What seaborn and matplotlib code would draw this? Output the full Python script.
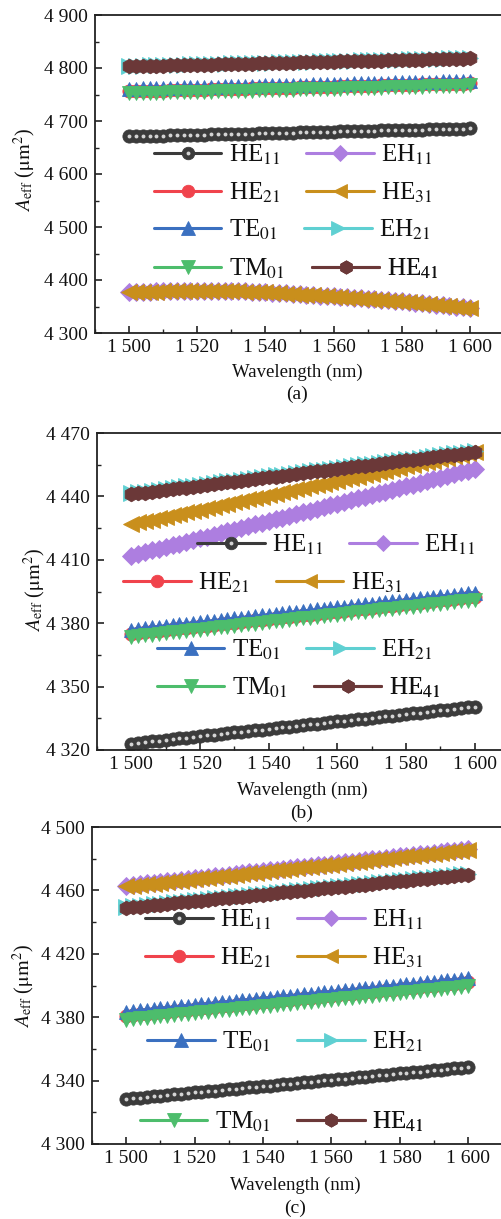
import matplotlib
matplotlib.use("Agg")
import matplotlib.pyplot as plt
import seaborn as sns
from matplotlib.ticker import MultipleLocator, FixedLocator, FuncFormatter

# ---------------- data ----------------
wavelength = [1500, 1502, 1504, 1506, 1508, 1510, 1512, 1514, 1516, 1518, 1520, 1522, 1524, 1526, 1528,
              1530, 1532, 1534, 1536, 1538, 1540, 1542, 1544, 1546, 1548, 1550, 1552, 1554, 1556, 1558,
              1560, 1562, 1564, 1566, 1568, 1570, 1572, 1574, 1576, 1578, 1580, 1582, 1584, 1586, 1588,
              1590, 1592, 1594, 1596, 1598, 1600]

modes = ["HE11", "HE21", "TE01", "TM01", "EH11", "HE31", "EH21", "HE41"]
mode_labels = [r"HE$_{11}$", r"HE$_{21}$", r"TE$_{01}$", r"TM$_{01}$",
               r"EH$_{11}$", r"HE$_{31}$", r"EH$_{21}$", r"HE$_{41}$"]

x_ticks = [1500, 1520, 1540, 1560, 1580, 1600]
y_ticks_a = [4300, 4400, 4500, 4600, 4700, 4800, 4900]
y_ticks_b = [4320, 4350, 4380, 4410, 4440, 4470]
y_ticks_c = [4300, 4340, 4380, 4420, 4460, 4500]

# panel (a)
HE11_a = [4671.0, 4671.3, 4671.6, 4671.9, 4672.2, 4672.5, 4672.8, 4673.1, 4673.4, 4673.7, 4674.0, 4674.3, 4674.6, 4674.9, 4675.2, 4675.5, 4675.8, 4676.1, 4676.4, 4676.7, 4677.0, 4677.3, 4677.6, 4677.9, 4678.2, 4678.5, 4678.8, 4679.1, 4679.4, 4679.7, 4680.0, 4680.3, 4680.6, 4680.9, 4681.2, 4681.5, 4681.8, 4682.1, 4682.4, 4682.7, 4683.0, 4683.3, 4683.6, 4683.9, 4684.2, 4684.5, 4684.8, 4685.1, 4685.4, 4685.7, 4686.0]
HE21_a = [4756.0, 4756.3, 4756.6, 4756.9, 4757.2, 4757.5, 4757.8, 4758.1, 4758.4, 4758.7, 4759.0, 4759.3, 4759.6, 4759.9, 4760.2, 4760.5, 4760.8, 4761.1, 4761.4, 4761.7, 4762.0, 4762.3, 4762.6, 4762.9, 4763.2, 4763.5, 4763.8, 4764.1, 4764.4, 4764.7, 4765.0, 4765.3, 4765.6, 4765.9, 4766.2, 4766.5, 4766.8, 4767.1, 4767.4, 4767.7, 4768.0, 4768.3, 4768.6, 4768.9, 4769.2, 4769.5, 4769.8, 4770.1, 4770.4, 4770.7, 4771.0]
TE01_a = [4761.0, 4761.3, 4761.6, 4761.9, 4762.2, 4762.5, 4762.8, 4763.1, 4763.4, 4763.7, 4764.0, 4764.3, 4764.6, 4764.9, 4765.2, 4765.5, 4765.8, 4766.1, 4766.4, 4766.7, 4767.0, 4767.3, 4767.6, 4767.9, 4768.2, 4768.5, 4768.8, 4769.1, 4769.4, 4769.7, 4770.0, 4770.3, 4770.6, 4770.9, 4771.2, 4771.5, 4771.8, 4772.1, 4772.4, 4772.7, 4773.0, 4773.3, 4773.6, 4773.9, 4774.2, 4774.5, 4774.8, 4775.1, 4775.4, 4775.7, 4776.0]
TM01_a = [4752.0, 4752.3, 4752.6, 4752.9, 4753.2, 4753.5, 4753.8, 4754.1, 4754.4, 4754.7, 4755.0, 4755.3, 4755.6, 4755.9, 4756.2, 4756.5, 4756.8, 4757.1, 4757.4, 4757.7, 4758.0, 4758.3, 4758.6, 4758.9, 4759.2, 4759.5, 4759.8, 4760.1, 4760.4, 4760.7, 4761.0, 4761.3, 4761.6, 4761.9, 4762.2, 4762.5, 4762.8, 4763.1, 4763.4, 4763.7, 4764.0, 4764.3, 4764.6, 4764.9, 4765.2, 4765.5, 4765.8, 4766.1, 4766.4, 4766.7, 4767.0]
EH11_a = [4377.0, 4377.5, 4377.9, 4378.3, 4378.7, 4379.0, 4379.3, 4379.6, 4379.8, 4379.9, 4380.0, 4380.0, 4380.0, 4379.9, 4379.7, 4379.5, 4379.1, 4378.7, 4378.2, 4377.6, 4377.0, 4376.3, 4375.5, 4374.7, 4373.9, 4373.0, 4372.2, 4371.4, 4370.6, 4369.8, 4369.0, 4368.1, 4367.2, 4366.3, 4365.4, 4364.5, 4363.5, 4362.5, 4361.5, 4360.5, 4359.5, 4358.3, 4357.1, 4355.9, 4354.7, 4353.5, 4352.2, 4350.9, 4349.6, 4348.3, 4347.0]
HE31_a = [4376.5, 4377.0, 4377.4, 4377.8, 4378.2, 4378.5, 4378.8, 4379.1, 4379.3, 4379.4, 4379.5, 4379.5, 4379.5, 4379.4, 4379.2, 4379.0, 4378.6, 4378.2, 4377.7, 4377.1, 4376.5, 4375.8, 4375.0, 4374.2, 4373.4, 4372.5, 4371.7, 4370.9, 4370.1, 4369.3, 4368.5, 4367.6, 4366.7, 4365.8, 4364.9, 4364.0, 4363.0, 4362.0, 4361.0, 4360.0, 4359.0, 4357.8, 4356.6, 4355.4, 4354.2, 4353.0, 4351.7, 4350.4, 4349.1, 4347.8, 4346.5]
EH21_a = [4804.0, 4804.3, 4804.6, 4804.9, 4805.2, 4805.5, 4805.8, 4806.1, 4806.4, 4806.7, 4807.0, 4807.3, 4807.6, 4807.9, 4808.2, 4808.5, 4808.8, 4809.1, 4809.4, 4809.7, 4810.0, 4810.3, 4810.6, 4810.9, 4811.2, 4811.5, 4811.8, 4812.1, 4812.4, 4812.7, 4813.0, 4813.3, 4813.6, 4813.9, 4814.2, 4814.5, 4814.8, 4815.1, 4815.4, 4815.7, 4816.0, 4816.3, 4816.6, 4816.9, 4817.2, 4817.5, 4817.8, 4818.1, 4818.4, 4818.7, 4819.0]
HE41_a = [4803.0, 4803.3, 4803.6, 4803.9, 4804.2, 4804.5, 4804.8, 4805.1, 4805.4, 4805.7, 4806.0, 4806.3, 4806.6, 4806.9, 4807.2, 4807.5, 4807.8, 4808.1, 4808.4, 4808.7, 4809.0, 4809.3, 4809.6, 4809.9, 4810.2, 4810.5, 4810.8, 4811.1, 4811.4, 4811.7, 4812.0, 4812.3, 4812.6, 4812.9, 4813.2, 4813.5, 4813.8, 4814.1, 4814.4, 4814.7, 4815.0, 4815.3, 4815.6, 4815.9, 4816.2, 4816.5, 4816.8, 4817.1, 4817.4, 4817.7, 4818.0]

# panel (b)
HE11_b = [4323.0, 4323.4, 4323.7, 4324.1, 4324.4, 4324.8, 4325.1, 4325.5, 4325.8, 4326.2, 4326.5, 4326.9, 4327.2, 4327.6, 4327.9, 4328.3, 4328.6, 4329.0, 4329.3, 4329.7, 4330.0, 4330.4, 4330.7, 4331.1, 4331.4, 4331.8, 4332.1, 4332.5, 4332.8, 4333.2, 4333.5, 4333.9, 4334.2, 4334.6, 4334.9, 4335.3, 4335.6, 4336.0, 4336.3, 4336.7, 4337.0, 4337.4, 4337.7, 4338.1, 4338.4, 4338.8, 4339.1, 4339.5, 4339.8, 4340.2, 4340.5]
HE21_b = [4375.0, 4375.4, 4375.7, 4376.1, 4376.4, 4376.8, 4377.1, 4377.5, 4377.8, 4378.2, 4378.5, 4378.9, 4379.2, 4379.6, 4379.9, 4380.3, 4380.6, 4381.0, 4381.3, 4381.7, 4382.0, 4382.4, 4382.7, 4383.1, 4383.4, 4383.8, 4384.1, 4384.5, 4384.8, 4385.2, 4385.5, 4385.9, 4386.2, 4386.6, 4386.9, 4387.3, 4387.6, 4388.0, 4388.3, 4388.7, 4389.0, 4389.4, 4389.7, 4390.1, 4390.4, 4390.8, 4391.1, 4391.5, 4391.8, 4392.2, 4392.5]
TE01_b = [4377.0, 4377.4, 4377.7, 4378.1, 4378.4, 4378.8, 4379.1, 4379.5, 4379.8, 4380.2, 4380.5, 4380.9, 4381.2, 4381.6, 4381.9, 4382.3, 4382.6, 4383.0, 4383.3, 4383.7, 4384.0, 4384.4, 4384.7, 4385.1, 4385.4, 4385.8, 4386.1, 4386.5, 4386.8, 4387.2, 4387.5, 4387.9, 4388.2, 4388.6, 4388.9, 4389.3, 4389.6, 4390.0, 4390.3, 4390.7, 4391.0, 4391.4, 4391.7, 4392.1, 4392.4, 4392.8, 4393.1, 4393.5, 4393.8, 4394.2, 4394.5]
TM01_b = [4373.5, 4373.9, 4374.2, 4374.6, 4374.9, 4375.3, 4375.6, 4376.0, 4376.3, 4376.7, 4377.0, 4377.4, 4377.7, 4378.1, 4378.4, 4378.8, 4379.1, 4379.5, 4379.8, 4380.2, 4380.5, 4380.9, 4381.2, 4381.6, 4381.9, 4382.3, 4382.6, 4383.0, 4383.3, 4383.7, 4384.0, 4384.4, 4384.7, 4385.1, 4385.4, 4385.8, 4386.1, 4386.5, 4386.8, 4387.2, 4387.5, 4387.9, 4388.2, 4388.6, 4388.9, 4389.3, 4389.6, 4390.0, 4390.3, 4390.7, 4391.0]
EH11_b = [4412.0, 4412.8, 4413.6, 4414.5, 4415.3, 4416.1, 4416.9, 4417.7, 4418.6, 4419.4, 4420.2, 4421.0, 4421.8, 4422.7, 4423.5, 4424.3, 4425.1, 4425.9, 4426.8, 4427.6, 4428.4, 4429.2, 4430.0, 4430.9, 4431.7, 4432.5, 4433.3, 4434.1, 4435.0, 4435.8, 4436.6, 4437.4, 4438.2, 4439.1, 4439.9, 4440.7, 4441.5, 4442.3, 4443.2, 4444.0, 4444.8, 4445.6, 4446.4, 4447.3, 4448.1, 4448.9, 4449.7, 4450.5, 4451.4, 4452.2, 4453.0]
HE31_b = [4427.0, 4427.7, 4428.4, 4429.0, 4429.7, 4430.4, 4431.1, 4431.8, 4432.4, 4433.1, 4433.8, 4434.5, 4435.2, 4435.8, 4436.5, 4437.2, 4437.9, 4438.6, 4439.2, 4439.9, 4440.6, 4441.3, 4442.0, 4442.6, 4443.3, 4444.0, 4444.7, 4445.4, 4446.0, 4446.7, 4447.4, 4448.1, 4448.8, 4449.4, 4450.1, 4450.8, 4451.5, 4452.2, 4452.8, 4453.5, 4454.2, 4454.9, 4455.6, 4456.2, 4456.9, 4457.6, 4458.3, 4459.0, 4459.6, 4460.3, 4461.0]
EH21_b = [4441.5, 4441.9, 4442.3, 4442.7, 4443.1, 4443.5, 4443.9, 4444.3, 4444.7, 4445.1, 4445.5, 4445.9, 4446.3, 4446.7, 4447.1, 4447.5, 4447.9, 4448.3, 4448.7, 4449.1, 4449.5, 4449.9, 4450.3, 4450.7, 4451.1, 4451.5, 4451.9, 4452.3, 4452.7, 4453.1, 4453.5, 4453.9, 4454.3, 4454.7, 4455.1, 4455.5, 4455.9, 4456.3, 4456.7, 4457.1, 4457.5, 4457.9, 4458.3, 4458.7, 4459.1, 4459.5, 4459.9, 4460.3, 4460.7, 4461.1, 4461.5]
HE41_b = [4441.0, 4441.4, 4441.8, 4442.2, 4442.6, 4443.0, 4443.4, 4443.8, 4444.2, 4444.6, 4445.0, 4445.4, 4445.8, 4446.2, 4446.6, 4447.0, 4447.4, 4447.8, 4448.2, 4448.6, 4449.0, 4449.4, 4449.8, 4450.2, 4450.6, 4451.0, 4451.4, 4451.8, 4452.2, 4452.6, 4453.0, 4453.4, 4453.8, 4454.2, 4454.6, 4455.0, 4455.4, 4455.8, 4456.2, 4456.6, 4457.0, 4457.4, 4457.8, 4458.2, 4458.6, 4459.0, 4459.4, 4459.8, 4460.2, 4460.6, 4461.0]

# panel (c)
HE11_c = [4328.5, 4328.9, 4329.3, 4329.7, 4330.1, 4330.5, 4330.9, 4331.3, 4331.7, 4332.1, 4332.5, 4332.9, 4333.3, 4333.7, 4334.1, 4334.5, 4334.9, 4335.3, 4335.7, 4336.1, 4336.5, 4336.9, 4337.3, 4337.7, 4338.1, 4338.5, 4338.9, 4339.3, 4339.7, 4340.1, 4340.5, 4340.9, 4341.3, 4341.7, 4342.1, 4342.5, 4342.9, 4343.3, 4343.7, 4344.1, 4344.5, 4344.9, 4345.3, 4345.7, 4346.1, 4346.5, 4346.9, 4347.3, 4347.7, 4348.1, 4348.5]
HE21_c = [4381.0, 4381.4, 4381.8, 4382.3, 4382.7, 4383.1, 4383.5, 4383.9, 4384.4, 4384.8, 4385.2, 4385.6, 4386.0, 4386.5, 4386.9, 4387.3, 4387.7, 4388.1, 4388.6, 4389.0, 4389.4, 4389.8, 4390.2, 4390.7, 4391.1, 4391.5, 4391.9, 4392.3, 4392.8, 4393.2, 4393.6, 4394.0, 4394.4, 4394.9, 4395.3, 4395.7, 4396.1, 4396.5, 4397.0, 4397.4, 4397.8, 4398.2, 4398.6, 4399.1, 4399.5, 4399.9, 4400.3, 4400.7, 4401.2, 4401.6, 4402.0]
TE01_c = [4383.5, 4383.9, 4384.3, 4384.8, 4385.2, 4385.6, 4386.0, 4386.4, 4386.9, 4387.3, 4387.7, 4388.1, 4388.5, 4389.0, 4389.4, 4389.8, 4390.2, 4390.6, 4391.1, 4391.5, 4391.9, 4392.3, 4392.7, 4393.2, 4393.6, 4394.0, 4394.4, 4394.8, 4395.3, 4395.7, 4396.1, 4396.5, 4396.9, 4397.4, 4397.8, 4398.2, 4398.6, 4399.0, 4399.5, 4399.9, 4400.3, 4400.7, 4401.1, 4401.6, 4402.0, 4402.4, 4402.8, 4403.2, 4403.7, 4404.1, 4404.5]
TM01_c = [4378.5, 4378.9, 4379.3, 4379.8, 4380.2, 4380.6, 4381.0, 4381.4, 4381.9, 4382.3, 4382.7, 4383.1, 4383.5, 4384.0, 4384.4, 4384.8, 4385.2, 4385.6, 4386.1, 4386.5, 4386.9, 4387.3, 4387.7, 4388.2, 4388.6, 4389.0, 4389.4, 4389.8, 4390.3, 4390.7, 4391.1, 4391.5, 4391.9, 4392.4, 4392.8, 4393.2, 4393.6, 4394.0, 4394.5, 4394.9, 4395.3, 4395.7, 4396.1, 4396.6, 4397.0, 4397.4, 4397.8, 4398.2, 4398.7, 4399.1, 4399.5]
EH11_c = [4463.0, 4463.5, 4463.9, 4464.4, 4464.8, 4465.3, 4465.8, 4466.2, 4466.7, 4467.1, 4467.6, 4468.1, 4468.5, 4469.0, 4469.4, 4469.9, 4470.4, 4470.8, 4471.3, 4471.7, 4472.2, 4472.7, 4473.1, 4473.6, 4474.0, 4474.5, 4475.0, 4475.4, 4475.9, 4476.3, 4476.8, 4477.3, 4477.7, 4478.2, 4478.6, 4479.1, 4479.6, 4480.0, 4480.5, 4480.9, 4481.4, 4481.9, 4482.3, 4482.8, 4483.2, 4483.7, 4484.2, 4484.6, 4485.1, 4485.5, 4486.0]
HE31_c = [4462.5, 4463.0, 4463.4, 4463.9, 4464.3, 4464.8, 4465.3, 4465.7, 4466.2, 4466.6, 4467.1, 4467.6, 4468.0, 4468.5, 4468.9, 4469.4, 4469.9, 4470.3, 4470.8, 4471.2, 4471.7, 4472.2, 4472.6, 4473.1, 4473.5, 4474.0, 4474.5, 4474.9, 4475.4, 4475.8, 4476.3, 4476.8, 4477.2, 4477.7, 4478.1, 4478.6, 4479.1, 4479.5, 4480.0, 4480.4, 4480.9, 4481.4, 4481.8, 4482.3, 4482.7, 4483.2, 4483.7, 4484.1, 4484.6, 4485.0, 4485.5]
EH21_c = [4449.5, 4449.9, 4450.3, 4450.8, 4451.2, 4451.6, 4452.0, 4452.4, 4452.9, 4453.3, 4453.7, 4454.1, 4454.5, 4455.0, 4455.4, 4455.8, 4456.2, 4456.6, 4457.1, 4457.5, 4457.9, 4458.3, 4458.7, 4459.2, 4459.6, 4460.0, 4460.4, 4460.8, 4461.3, 4461.7, 4462.1, 4462.5, 4462.9, 4463.4, 4463.8, 4464.2, 4464.6, 4465.0, 4465.5, 4465.9, 4466.3, 4466.7, 4467.1, 4467.6, 4468.0, 4468.4, 4468.8, 4469.2, 4469.7, 4470.1, 4470.5]
HE41_c = [4449.0, 4449.4, 4449.8, 4450.3, 4450.7, 4451.1, 4451.5, 4451.9, 4452.4, 4452.8, 4453.2, 4453.6, 4454.0, 4454.5, 4454.9, 4455.3, 4455.7, 4456.1, 4456.6, 4457.0, 4457.4, 4457.8, 4458.2, 4458.7, 4459.1, 4459.5, 4459.9, 4460.3, 4460.8, 4461.2, 4461.6, 4462.0, 4462.4, 4462.9, 4463.3, 4463.7, 4464.1, 4464.5, 4465.0, 4465.4, 4465.8, 4466.2, 4466.6, 4467.1, 4467.5, 4467.9, 4468.3, 4468.7, 4469.2, 4469.6, 4470.0]

panel_data = [
    [HE11_a, HE21_a, TE01_a, TM01_a, EH11_a, HE31_a, EH21_a, HE41_a],
    [HE11_b, HE21_b, TE01_b, TM01_b, EH11_b, HE31_b, EH21_b, HE41_b],
    [HE11_c, HE21_c, TE01_c, TM01_c, EH11_c, HE31_c, EH21_c, HE41_c],
]
panel_names = ["(a)", "(b)", "(c)"]
y_ticks = [y_ticks_a, y_ticks_b, y_ticks_c]
x_limits = (1490, 1610)

# ---------------- style ----------------
colors = {"HE11": "#3b3b3b", "HE21": "#f0434c", "TE01": "#3b70c0", "TM01": "#4dbd6c",
          "EH11": "#ad7ee0", "HE31": "#c98f1c", "EH21": "#5fd0d2", "HE41": "#6b3838"}
markers = {"HE11": "o", "HE21": "o", "TE01": "^", "TM01": "v",
           "EH11": "D", "HE31": "<", "EH21": ">", "HE41": "h"}
msize = {"HE11": 9.5, "HE21": 9.5, "TE01": 10.5, "TM01": 10.5,
         "EH11": 9.5, "HE31": 11, "EH21": 11, "HE41": 10.5}
leg_msize = {"HE11": 9, "HE21": 9, "TE01": 9.5, "TM01": 9.5,
             "EH11": 8, "HE31": 10, "EH21": 10, "HE41": 9.5}

sns.set_theme(style="ticks")
plt.rcParams["font.family"] = ["Liberation Serif", "DejaVu Serif"]
plt.rcParams["mathtext.fontset"] = "stix"
plt.rcParams["axes.linewidth"] = 1.3
plt.rcParams["axes.edgecolor"] = "#222222"

W, H = 502, 1219
fig = plt.figure(figsize=(W / 100, H / 100), dpi=100, facecolor="white")

def fx(px):
    return px / W

def fy(py):
    return 1 - py / H

# axes boxes in pixels: left, right, top, bottom
boxes = [(95, 504, 15, 333), (97, 509, 433, 750), (92, 502, 827, 1144)]
ylabel_pos = [(25, 170), (35, 590), (24, 986)]
xlabel_pos = [(297, 372), (302, 790), (295, 1185)]
plabel_pos = [(297, 394), (302, 813), (295, 1208)]
legend_pos = [
    {"HE11": (154, 155), "EH11": (306, 155), "HE21": (154, 193), "HE31": (306, 193),
     "TE01": (154, 230), "EH21": (304, 230), "TM01": (154, 269), "HE41": (312, 269)},
    {"HE11": (197, 545), "EH11": (349, 545), "HE21": (123, 583), "HE31": (276, 583),
     "TE01": (157, 650), "EH21": (306, 650), "TM01": (157, 688), "HE41": (314, 688)},
    {"HE11": (145, 920), "EH11": (297, 920), "HE21": (145, 958), "HE31": (297, 958),
     "TE01": (147, 1042), "EH21": (297, 1042), "TM01": (140, 1122), "HE41": (297, 1122)},
]

thousands = FuncFormatter(lambda v, p: f"{int(round(v)):,}".replace(",", " "))

for i in range(3):
    l, r, t, b = boxes[i]
    ax = fig.add_axes([fx(l), fy(b), (r - l) / W, (b - t) / H])
    handles = {}
    for m, lab, vals in zip(modes, mode_labels, panel_data[i]):
        sns.lineplot(x=wavelength, y=vals, ax=ax, color=colors[m], lw=2.2,
                     marker=markers[m], markersize=msize[m], markeredgewidth=0.6,
                     markeredgecolor=colors[m], markerfacecolor=colors[m], legend=False)
        line = ax.lines[-1]
        # legend proxy with slightly smaller marker
        proxy = matplotlib.lines.Line2D([], [], color=colors[m], lw=2.2, marker=markers[m],
                                        markersize=leg_msize[m], markeredgewidth=0.6,
                                        markeredgecolor=colors[m], markerfacecolor=colors[m])
        if m == "HE11":
            ax.plot(wavelength, vals, ls="none", marker="o", markersize=2.8,
                    markerfacecolor="#d4d4d4", markeredgewidth=0)
            hl = matplotlib.lines.Line2D([], [], ls="none", marker="o", markersize=2.8,
                                         markerfacecolor="#d4d4d4", markeredgewidth=0)
            handles[m] = (proxy, hl)
        else:
            handles[m] = proxy

    yt = y_ticks[i]
    ax.set_xlim(*x_limits)
    ax.set_ylim(yt[0], yt[-1])
    ax.xaxis.set_major_locator(FixedLocator(x_ticks))
    ax.xaxis.set_minor_locator(MultipleLocator(10))
    ax.yaxis.set_major_locator(FixedLocator(yt))
    ax.yaxis.set_minor_locator(MultipleLocator((yt[1] - yt[0]) / 2))
    ax.xaxis.set_major_formatter(thousands)
    ax.yaxis.set_major_formatter(thousands)
    ax.tick_params(which="both", direction="in", top=False, right=False,
                   colors="#222222", labelcolor="#111111", labelsize=14)
    ax.tick_params(which="major", length=5, width=1.2)
    ax.tick_params(which="minor", length=3, width=1.0)
    ax.tick_params(axis="y", pad=5)
    ax.tick_params(axis="x", pad=4)
    ax.set_xlabel("")
    ax.set_ylabel("")

    fig.text(fx(xlabel_pos[i][0]), fy(xlabel_pos[i][1]), "Wavelength (nm)",
             ha="center", va="center", fontsize=13.5, color="#111111")
    fig.text(fx(plabel_pos[i][0]), fy(plabel_pos[i][1]), panel_names[i],
             ha="center", va="center", fontsize=14, color="#111111")
    fig.text(fx(ylabel_pos[i][0]), fy(ylabel_pos[i][1]),
             r"$A_{\mathrm{eff}}$ ($\mathrm{\mu m}^2$)", rotation=90,
             ha="center", va="center", fontsize=14.5, color="#111111")

    for m, lab in zip(modes, mode_labels):
        px, py = legend_pos[i][m]
        leg = ax.legend(handles=[handles[m]], labels=[lab], loc="center left",
                        bbox_to_anchor=(fx(px), fy(py)), bbox_transform=fig.transFigure,
                        frameon=False, borderpad=0, borderaxespad=0,
                        handlelength=2.7, handletextpad=0.3, fontsize=18,
                        labelcolor="#111111")
        ax.add_artist(leg)

fig.savefig("out.png", dpi=100, facecolor="white")
